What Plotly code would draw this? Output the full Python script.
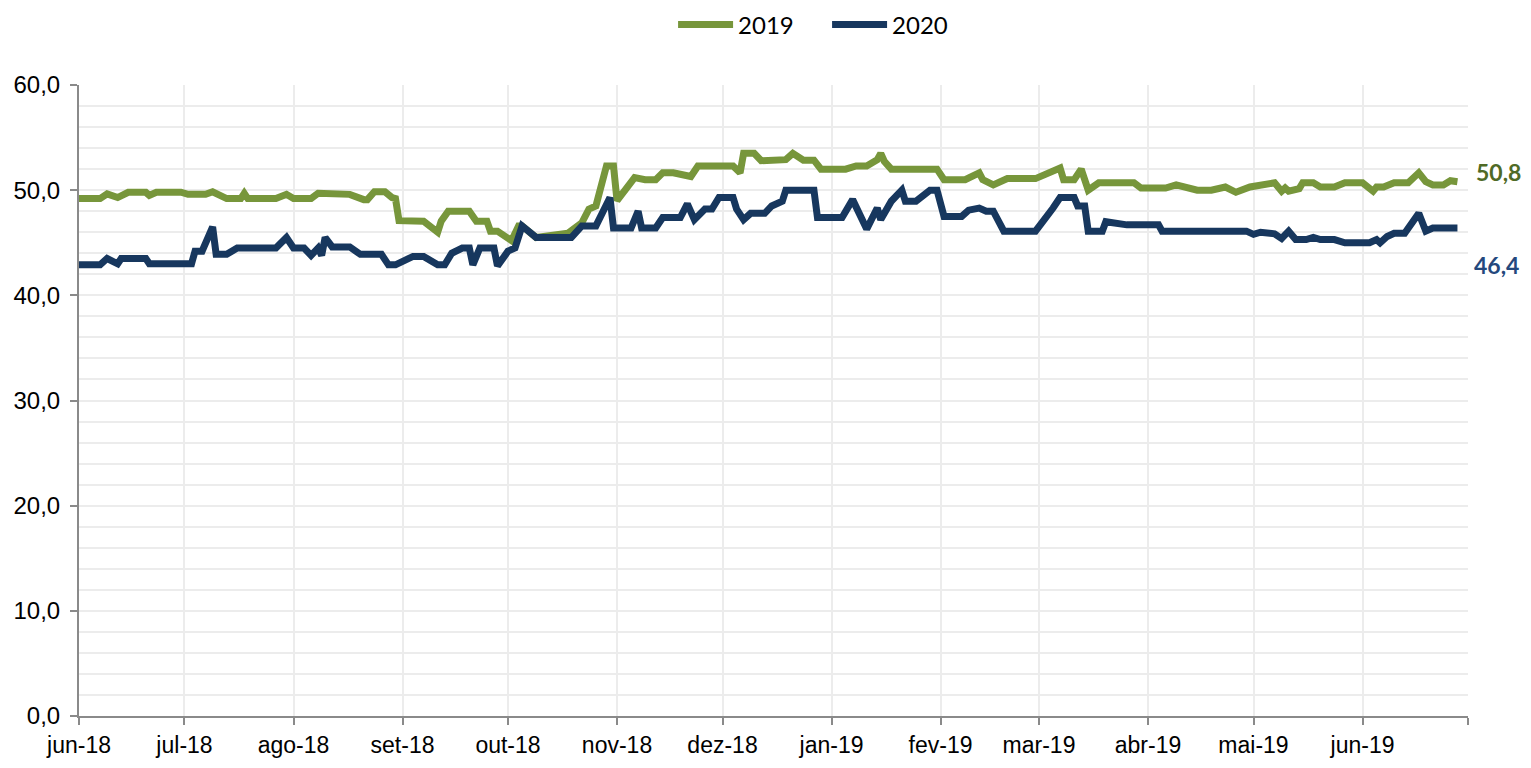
import plotly.graph_objects as go

# ---- data ----
dates_2019 = [
    "2018-06-01", "2018-06-07", "2018-06-09", "2018-06-12", "2018-06-15", "2018-06-20", "2018-06-21",
    "2018-06-23", "2018-06-30", "2018-07-02", "2018-07-07", "2018-07-09", "2018-07-13", "2018-07-17",
    "2018-07-18", "2018-07-19", "2018-07-27", "2018-07-30", "2018-08-01", "2018-08-06", "2018-08-08",
    "2018-08-10", "2018-08-13", "2018-08-17", "2018-08-21", "2018-08-22", "2018-08-24", "2018-08-27",
    "2018-08-29", "2018-08-30", "2018-08-31", "2018-09-07", "2018-09-11", "2018-09-12", "2018-09-14",
    "2018-09-20", "2018-09-22", "2018-09-25", "2018-09-26", "2018-09-28", "2018-10-02", "2018-10-04",
    "2018-10-05", "2018-10-09", "2018-10-18", "2018-10-22", "2018-10-24", "2018-10-26", "2018-10-29",
    "2018-10-31", "2018-11-01", "2018-11-06", "2018-11-09", "2018-11-12", "2018-11-14", "2018-11-17",
    "2018-11-22", "2018-11-24", "2018-12-04", "2018-12-06", "2018-12-07", "2018-12-10", "2018-12-12",
    "2018-12-19", "2018-12-21", "2018-12-24", "2018-12-27", "2018-12-29", "2019-01-05", "2019-01-08",
    "2019-01-11", "2019-01-14", "2019-01-15", "2019-01-16", "2019-01-18", "2019-01-31", "2019-02-02",
    "2019-02-08", "2019-02-12", "2019-02-13", "2019-02-16", "2019-02-20", "2019-02-28", "2019-03-07",
    "2019-03-08", "2019-03-11", "2019-03-13", "2019-03-15", "2019-03-18", "2019-03-28", "2019-03-30",
    "2019-04-06", "2019-04-09", "2019-04-12", "2019-04-15", "2019-04-19", "2019-04-23", "2019-04-26",
    "2019-04-30", "2019-05-07", "2019-05-09", "2019-05-10", "2019-05-11", "2019-05-14", "2019-05-15",
    "2019-05-18", "2019-05-20", "2019-05-24", "2019-05-27", "2019-06-01", "2019-06-04", "2019-06-05",
    "2019-06-07", "2019-06-10", "2019-06-14", "2019-06-17", "2019-06-19", "2019-06-21", "2019-06-24",
    "2019-06-26", "2019-06-27", "2019-06-28",
]
values_2019 = [
    49.2, 49.2, 49.65, 49.3, 49.8, 49.8, 49.5,
    49.8, 49.8, 49.6, 49.6, 49.85, 49.2, 49.2,
    49.7, 49.2, 49.2, 49.6, 49.2, 49.2, 49.7,
    49.7, 49.6, 49.6, 49.1, 49.1, 49.85, 49.85,
    49.3, 49.2, 47.1, 47.05, 46.0, 47.05, 48.0,
    48.0, 47.05, 47.05, 46.1, 46.1, 45.2, 46.6,
    46.6, 45.5, 45.9, 46.9, 48.2, 48.5, 52.3,
    52.3, 49.0, 51.2, 51.0, 51.0, 51.65, 51.65,
    51.3, 52.3, 52.3, 51.65, 53.5, 53.5, 52.8,
    52.9, 53.5, 52.85, 52.85, 52.0, 52.0, 52.3,
    52.3, 52.9, 53.5, 52.75, 52.0, 52.0, 51.0,
    51.0, 51.65, 51.0, 50.5, 51.1, 51.1, 52.1,
    51.0, 51.0, 52.0, 50.0, 50.7, 50.7, 50.2,
    50.2, 50.5, 50.2, 50.0, 50.0, 50.3, 49.8,
    50.3, 50.7, 49.9, 50.2, 49.9, 50.15, 50.7,
    50.7, 50.3, 50.3, 50.7, 50.7, 49.9, 50.3,
    50.3, 50.7, 50.7, 51.65, 50.8, 50.5, 50.5,
    50.9, 50.9, 50.8,
]

dates_2020 = [
    "2018-06-01", "2018-06-07", "2018-06-09", "2018-06-12", "2018-06-13", "2018-06-20", "2018-06-21",
    "2018-07-03", "2018-07-04", "2018-07-06", "2018-07-09", "2018-07-10", "2018-07-13", "2018-07-16",
    "2018-07-27", "2018-07-30", "2018-08-01", "2018-08-04", "2018-08-06", "2018-08-08", "2018-08-09",
    "2018-08-10", "2018-08-12", "2018-08-17", "2018-08-20", "2018-08-26", "2018-08-28", "2018-08-30",
    "2018-09-04", "2018-09-07", "2018-09-11", "2018-09-13", "2018-09-15", "2018-09-18", "2018-09-20",
    "2018-09-21", "2018-09-23", "2018-09-27", "2018-09-28", "2018-10-01", "2018-10-03", "2018-10-05",
    "2018-10-09", "2018-10-19", "2018-10-22", "2018-10-26", "2018-10-30", "2018-10-31", "2018-11-05",
    "2018-11-07", "2018-11-08", "2018-11-12", "2018-11-14", "2018-11-19", "2018-11-21", "2018-11-23",
    "2018-11-26", "2018-11-28", "2018-11-30", "2018-12-04", "2018-12-05", "2018-12-07", "2018-12-09",
    "2018-12-13", "2018-12-15", "2018-12-18", "2018-12-19", "2018-12-27", "2018-12-28", "2019-01-04",
    "2019-01-07", "2019-01-09", "2019-01-11", "2019-01-14", "2019-01-15", "2019-01-18", "2019-01-21",
    "2019-01-22", "2019-01-25", "2019-01-29", "2019-01-31", "2019-02-02", "2019-02-07", "2019-02-09",
    "2019-02-12", "2019-02-14", "2019-02-16", "2019-02-19", "2019-02-28", "2019-03-05", "2019-03-07",
    "2019-03-11", "2019-03-12", "2019-03-14", "2019-03-15", "2019-03-19", "2019-03-20", "2019-03-26",
    "2019-04-04", "2019-04-05", "2019-04-29", "2019-05-01", "2019-05-03", "2019-05-07", "2019-05-09",
    "2019-05-11", "2019-05-13", "2019-05-16", "2019-05-18", "2019-05-20", "2019-05-24", "2019-05-27",
    "2019-06-03", "2019-06-05", "2019-06-06", "2019-06-08", "2019-06-10", "2019-06-13", "2019-06-17",
    "2019-06-19", "2019-06-21", "2019-06-28",
]
values_2020 = [
    42.9, 42.9, 43.5, 43.0, 43.5, 43.5, 43.0,
    43.0, 44.2, 44.2, 46.5, 43.9, 43.9, 44.5,
    44.5, 45.5, 44.5, 44.5, 43.8, 44.5, 43.8,
    45.5, 44.6, 44.6, 43.9, 43.9, 42.9, 42.9,
    43.7, 43.7, 42.9, 42.9, 44.0, 44.5, 44.5,
    42.9, 44.5, 44.5, 42.8, 44.2, 44.5, 46.6,
    45.5, 45.5, 46.6, 46.6, 49.3, 46.4, 46.4,
    48.0, 46.4, 46.4, 47.4, 47.4, 48.7, 47.2,
    48.2, 48.2, 49.3, 49.3, 48.2, 47.2, 47.8,
    47.8, 48.5, 48.95, 50.0, 50.0, 47.4, 47.4,
    49.1, 47.8, 46.3, 48.3, 47.2, 48.95, 50.0,
    48.95, 48.95, 50.0, 50.0, 47.5, 47.5, 48.1,
    48.3, 48.0, 48.0, 46.1, 46.1, 48.3, 49.3,
    49.3, 48.5, 48.5, 46.1, 46.1, 47.0, 46.7,
    46.7, 46.1, 46.1, 45.8, 46.0, 45.85, 45.4,
    46.1, 45.3, 45.3, 45.5, 45.3, 45.3, 45.0,
    45.0, 45.3, 45.0, 45.6, 45.9, 45.9, 47.8,
    46.1, 46.4, 46.4,
]

month_ticks = ["2018-06-01", "2018-07-01", "2018-08-01", "2018-09-01", "2018-10-01", "2018-11-01",
               "2018-12-01", "2019-01-01", "2019-02-01", "2019-03-01", "2019-04-01", "2019-05-01",
               "2019-06-01", "2019-07-01"]
month_labels = ["jun-18", "jul-18", "ago-18", "set-18", "out-18", "nov-18", "dez-18",
                "jan-19", "fev-19", "mar-19", "abr-19", "mai-19", "jun-19", ""]

GREEN = "#77963b"
BLUE = "#17375e"

fig = go.Figure()
fig.add_trace(go.Scatter(x=dates_2019, y=values_2019, mode="lines", name="2019",
                         line=dict(color=GREEN, width=7)))
fig.add_trace(go.Scatter(x=dates_2020, y=values_2020, mode="lines", name="2020",
                         line=dict(color=BLUE, width=7)))

label_font = "Lato, Liberation Sans, sans-serif"
fig.add_annotation(x=1.0043, xref="paper", xanchor="left", y=values_2019[-1], yref="y",
                   yshift=10, text="<b>%s</b>" % f"{values_2019[-1]:.1f}".replace(".", ","),
                   showarrow=False, font=dict(family=label_font, size=23, color="#4f6a26"))
fig.add_annotation(x=1.0030, xref="paper", xanchor="left", y=values_2020[-1], yref="y",
                   yshift=-37, text="<b>%s</b>" % f"{values_2020[-1]:.1f}".replace(".", ","),
                   showarrow=False, font=dict(family=label_font, size=23, color="#24487d"))

fig.update_layout(
    width=1531, height=768,
    margin=dict(l=71, r=71, t=77, b=60, autoexpand=False),
    paper_bgcolor="white", plot_bgcolor="white",
    separators=",.",
    showlegend=True,
    legend=dict(orientation="h", x=0.4277, xanchor="left", y=1.131, yanchor="top",
                font=dict(family=label_font, size=24, color="#000000"),
                itemwidth=55, entrywidth=84, bgcolor="rgba(0,0,0,0)"),
    font=dict(family="Liberation Sans, Arial, sans-serif", size=24, color="#000000"),
)
fig.update_xaxes(
    type="date", range=["2018-06-01", "2019-07-01"],
    tickmode="array", tickvals=month_ticks, ticktext=month_labels,
    showgrid=True, gridcolor="#ececec", gridwidth=2,
    showline=True, linecolor="#8a8a8a", linewidth=2,
    ticks="outside", ticklen=7, tickcolor="#8a8a8a", tickwidth=2,
    tickfont=dict(size=23), zeroline=False,
)
fig.update_yaxes(
    range=[0, 60], dtick=10, tickformat=".1f",
    showgrid=True, gridcolor="#ececec", gridwidth=2,
    minor=dict(dtick=2, showgrid=True, gridcolor="#ececec", gridwidth=2),
    showline=True, linecolor="#8a8a8a", linewidth=2,
    ticks="outside", ticklen=7, tickcolor="#8a8a8a", tickwidth=2,
    tickfont=dict(size=24), ticklabelstandoff=5, zeroline=False,
)

fig.write_html("out.html")
